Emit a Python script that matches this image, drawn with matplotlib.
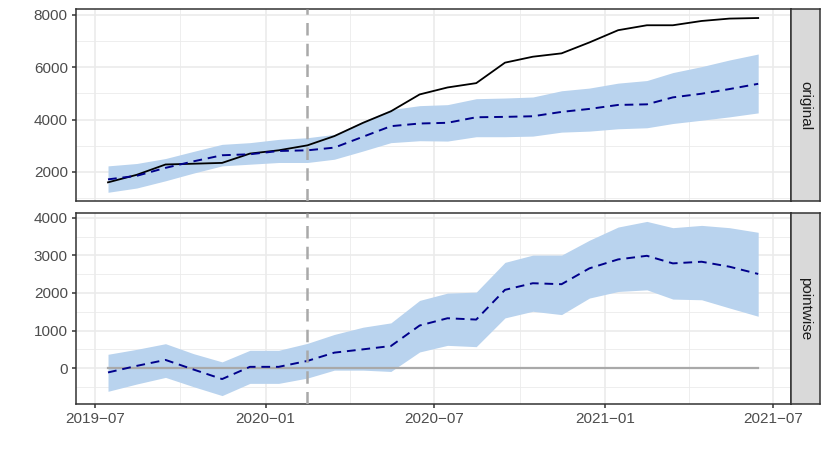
import numpy as np
import pandas as pd
import matplotlib
matplotlib.use("Agg")
import matplotlib.pyplot as plt
import matplotlib.dates as mdates
from matplotlib.ticker import MultipleLocator, FuncFormatter

plt.rcParams['font.family'] = ['Liberation Sans', 'DejaVu Sans']

# monthly observations (mid-month)
dates = pd.date_range("2019-07-01", periods=24, freq="MS") + pd.Timedelta(days=14)
intervention = pd.Timestamp("2020-02-15")

# original panel
observed = [1598, 1886, 2281, 2310, 2342, 2698, 2823, 3013, 3366, 3875, 4315, 4960,
            5226, 5392, 6175, 6402, 6531, 6948, 7416, 7605, 7605, 7769, 7860, 7882]
pred_mean = [1712, 1848, 2152, 2400, 2634, 2672, 2797, 2823, 2926, 3343, 3746, 3848,
             3875, 4087, 4102, 4125, 4292, 4406, 4558, 4581, 4847, 4987, 5165, 5366]
pred_upper = [2228, 2319, 2509, 2780, 3051, 3116, 3241, 3305, 3431, 3935, 4380, 4531,
              4569, 4797, 4823, 4861, 5100, 5203, 5392, 5491, 5795, 6023, 6277, 6505]
pred_lower = [1218, 1381, 1658, 1950, 2228, 2292, 2357, 2357, 2482, 2797, 3116, 3190,
              3176, 3343, 3343, 3366, 3518, 3557, 3647, 3685, 3848, 3974, 4102, 4254]

# pointwise panel
point_mean = [-114, 61, 219, -35, -290, 35, 35, 193, 413, 501, 589, 1135,
              1328, 1293, 2084, 2260, 2234, 2656, 2894, 2990, 2788, 2832, 2700, 2507]
point_upper = [369, 501, 651, 387, 167, 475, 475, 660, 897, 1090, 1205, 1803,
               1997, 2023, 2815, 3008, 3008, 3404, 3755, 3905, 3738, 3799, 3738, 3615]
point_lower = [-616, -422, -246, -492, -730, -405, -405, -264, -53, -53, -88, 431,
               607, 572, 1337, 1513, 1425, 1865, 2040, 2084, 1838, 1820, 1601, 1381]

band_col = '#B9D3EE'   # SlateGray2
mean_col = '#00008B'
grid_col = '#EBEBEB'
frame_col = '#333333'
W, H = 830, 461

fig = plt.figure(figsize=(W / 100, H / 100), dpi=100)
left, right = 75.5, 790.7
strip_w = 29.3
panels = [(9.3, 201.0, 'original'), (212.7, 404.3, 'pointwise')]
axes = []
for top, bot, label in panels:
    ax = fig.add_axes([left / W, 1 - bot / H, (right - left) / W, (bot - top) / H])
    sax = fig.add_axes([right / W, 1 - bot / H, strip_w / W, (bot - top) / H])
    sax.set_facecolor('#D9D9D9')
    sax.set_xticks([])
    sax.set_yticks([])
    for s in sax.spines.values():
        s.set_color(frame_col)
        s.set_linewidth(1.1)
    sax.text(0.5, 0.5, label, rotation=-90, ha='center', va='center',
             fontsize=11, color='#1A1A1A', transform=sax.transAxes)
    axes.append(ax)

ax1, ax2 = axes

ax1.fill_between(dates, pred_lower, pred_upper, color=band_col, lw=0, zorder=2)
ax1.plot(dates, observed, color='black', lw=1.3, zorder=3)
ax1.plot(dates, pred_mean, color=mean_col, lw=1.4, ls=(0, (4.5, 3)), zorder=4)

ax2.fill_between(dates, point_lower, point_upper, color=band_col, lw=0, zorder=2)
ax2.plot([dates[0], dates[-1]], [0, 0], color='#A9A9A9', lw=1.6, zorder=3)
ax2.plot(dates, point_mean, color=mean_col, lw=1.4, ls=(0, (4.5, 3)), zorder=4)

for ax in axes:
    ax.axvline(intervention, color='#A9A9A9', lw=1.8, ls=(0, (5, 3.3)), zorder=5)

# ggplot-like 5% expansion
span = dates[-1] - dates[0]
xlim = (dates[0] - span * 0.05, dates[-1] + span * 0.05)


def expand(lo, hi):
    r = hi - lo
    return lo - 0.05 * r, hi + 0.05 * r


ax1.set_ylim(*expand(min(pred_lower), max(observed)))
ax2.set_ylim(*expand(min(point_lower), max(point_upper)))
ax1.yaxis.set_major_locator(MultipleLocator(2000))
ax1.yaxis.set_minor_locator(MultipleLocator(1000))
ax2.yaxis.set_major_locator(MultipleLocator(1000))
ax2.yaxis.set_minor_locator(MultipleLocator(500))

for ax in axes:
    ax.set_xlim(*xlim)
    ax.xaxis.set_major_locator(mdates.MonthLocator(bymonth=[1, 7]))
    ax.xaxis.set_minor_locator(mdates.MonthLocator(bymonth=[4, 10]))
    ax.xaxis.set_major_formatter(FuncFormatter(
        lambda v, p: mdates.num2date(v).strftime('%Y\u2212%m')))
    ax.grid(True, which='major', color=grid_col, lw=1.2, zorder=0)
    ax.grid(True, which='minor', color=grid_col, lw=0.6, zorder=0)
    ax.set_axisbelow(True)
    ax.tick_params(which='major', length=3, width=1.1, color=frame_col,
                   labelsize=11, labelcolor='#4D4D4D', pad=2.5)
    ax.tick_params(which='minor', length=0)
    for s in ax.spines.values():
        s.set_color(frame_col)
        s.set_linewidth(1.1)
    ax.yaxis.set_major_formatter(FuncFormatter(lambda v, p: f'{v:.0f}'))

ax1.tick_params(axis='x', labelbottom=False, length=0)

fig.savefig('out.png', dpi=100)
